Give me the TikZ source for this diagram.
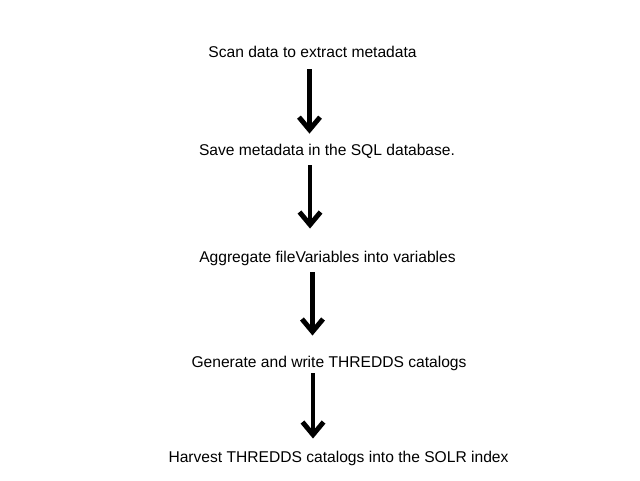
\documentclass[tikz,border=0pt]{standalone}
\usepackage{fontspec}
\setmainfont{Liberation Sans}
\usetikzlibrary{arrows.meta}

\tikzset{
	stage/.style={anchor=base, inner sep=0pt, text height=8pt, text depth=2.5pt,
		font=\fontsize{11.1}{13}\selectfont},
	flow/.style={line width=3.5pt, -{Straight Barb[length=9pt,width=15pt]}}
}

\begin{document}
\begin{tikzpicture}
		%%%%% START %%%%%
		\useasboundingbox (0, 0) rectangle (16, 12);
		
		\node[stage] (scan) at (7.8125, 10.55) {Scan data to extract metadata};
		\node[stage] (save) at (8.175, 8.125) {Save metadata in the SQL database.};
		\node[stage] (aggr) at (8.1875, 5.45) {Aggregate fileVariables into variables};
		\node[stage] (gen) at (8.225, 2.825) {Generate and write THREDDS catalogs};
		\node[stage] (harv) at (8.4625, 0.45) {Harvest THREDDS catalogs into the SOLR index};
		
		\coordinate (col1) at (7.7375, 0);
		\coordinate (col2) at (7.75, 0);
		\coordinate (col3) at (7.8125, 0);
		\coordinate (col4) at (7.825, 0);
		
		\draw[flow, shorten <=5.3pt, shorten >=7pt] (scan.south -| col1) -- (save.north -| col1);
		\draw[flow, shorten <=4.6pt, shorten >=15.6pt] (save.south -| col2) -- (aggr.north -| col2);
		\draw[flow, shorten <=4.6pt, shorten >=14.2pt] (aggr.south -| col3) -- (gen.north -| col3);
		\draw[flow, shorten <=1.8pt, shorten >=8.5pt] (gen.south -| col4) -- (harv.north -| col4);
		
		%%%%% END %%%%%
	\end{tikzpicture}
\end{document}
